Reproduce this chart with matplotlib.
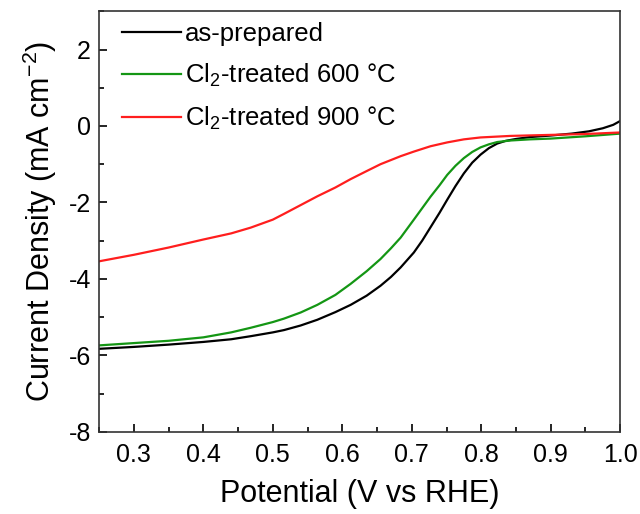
import matplotlib.pyplot as plt
from matplotlib.ticker import MultipleLocator

plt.rcParams['font.family'] = ['Liberation Sans', 'DejaVu Sans']
plt.rcParams['mathtext.fontset'] = 'custom'
plt.rcParams['mathtext.rm'] = 'Liberation Sans'
plt.rcParams['mathtext.it'] = 'Liberation Sans:italic'
plt.rcParams['axes.unicode_minus'] = False

# as-prepared
x_black = [0.25, 0.30, 0.35, 0.40, 0.44, 0.468, 0.50, 0.516, 0.54, 0.564, 0.59, 0.612,
           0.635, 0.655, 0.67, 0.684, 0.703, 0.715, 0.727, 0.74, 0.751, 0.763, 0.775,
           0.787, 0.799, 0.811, 0.823, 0.835, 0.85, 0.87, 0.90, 0.93, 0.955, 0.975, 0.99, 1.0]
y_black = [-5.83, -5.78, -5.72, -5.65, -5.58, -5.50, -5.40, -5.34, -5.22, -5.07, -4.87, -4.68,
           -4.44, -4.18, -3.95, -3.70, -3.31, -3.00, -2.65, -2.27, -1.93, -1.57, -1.24,
           -0.96, -0.75, -0.58, -0.46, -0.39, -0.34, -0.29, -0.25, -0.20, -0.14, -0.06, 0.03, 0.13]

# Cl2-treated 600 C
x_green = [0.25, 0.30, 0.35, 0.40, 0.44, 0.468, 0.50, 0.516, 0.54, 0.564, 0.59, 0.612,
           0.635, 0.655, 0.67, 0.684, 0.703, 0.715, 0.727, 0.74, 0.751, 0.763, 0.775,
           0.787, 0.799, 0.811, 0.823, 0.842, 0.87, 0.90, 0.95, 1.0]
y_green = [-5.74, -5.68, -5.62, -5.53, -5.40, -5.28, -5.13, -5.04, -4.88, -4.68, -4.42, -4.13,
           -3.80, -3.48, -3.20, -2.92, -2.45, -2.15, -1.85, -1.55, -1.28, -1.04, -0.84,
           -0.68, -0.56, -0.48, -0.42, -0.38, -0.35, -0.33, -0.27, -0.20]

# Cl2-treated 900 C
x_red = [0.25, 0.30, 0.35, 0.40, 0.44, 0.468, 0.50, 0.516, 0.54, 0.564, 0.59, 0.612,
         0.635, 0.655, 0.684, 0.703, 0.727, 0.751, 0.775, 0.799, 0.842, 0.885, 0.95, 1.0]
y_red = [-3.54, -3.37, -3.18, -2.97, -2.81, -2.66, -2.45, -2.30, -2.07, -1.84, -1.61, -1.39,
         -1.18, -1.00, -0.79, -0.67, -0.53, -0.43, -0.35, -0.30, -0.26, -0.24, -0.21, -0.17]

fig = plt.figure(figsize=(6.4, 5.14), dpi=100)
ax = fig.add_axes([0.155, 0.160, 0.814, 0.818])

ax.plot(x_black, y_black, color='black', lw=1.6, label='as-prepared')
ax.plot(x_green, y_green, color='#149614', lw=1.6, label='Cl$_2$-treated 600 °C')
ax.plot(x_red, y_red, color='#ff1e1e', lw=1.6, label='Cl$_2$-treated 900 °C')

ax.set_xlim(0.25, 1.0)
ax.set_ylim(-8, 3)
ax.xaxis.set_major_locator(MultipleLocator(0.1))
ax.xaxis.set_minor_locator(MultipleLocator(0.05))
ax.yaxis.set_minor_locator(MultipleLocator(1))
ax.set_yticks([-8, -6, -4, -2, 0, 2])
ax.tick_params(which='both', direction='in', labelsize=18, top=False, right=False)
ax.tick_params(which='major', length=6, width=1.2)
ax.tick_params(which='minor', length=3.5, width=1.2)
ax.tick_params(axis='x', pad=8)
ax.tick_params(axis='y', pad=6)
for s in ax.spines.values():
    s.set_linewidth(1.2)
    s.set_color('#333333')

ax.set_xlabel('Potential (V vs RHE)', fontsize=22, labelpad=9)
ax.set_ylabel('Current Density (mA cm$^{-2}$)', fontsize=22, labelpad=7)

ax.legend(loc='upper left', frameon=False, fontsize=18.5, handlelength=2.3,
          handletextpad=0.15, labelspacing=0.62, borderaxespad=0.0, borderpad=0.25,
          bbox_to_anchor=(0.031, 0.99))

fig.savefig('out.png', dpi=100)
